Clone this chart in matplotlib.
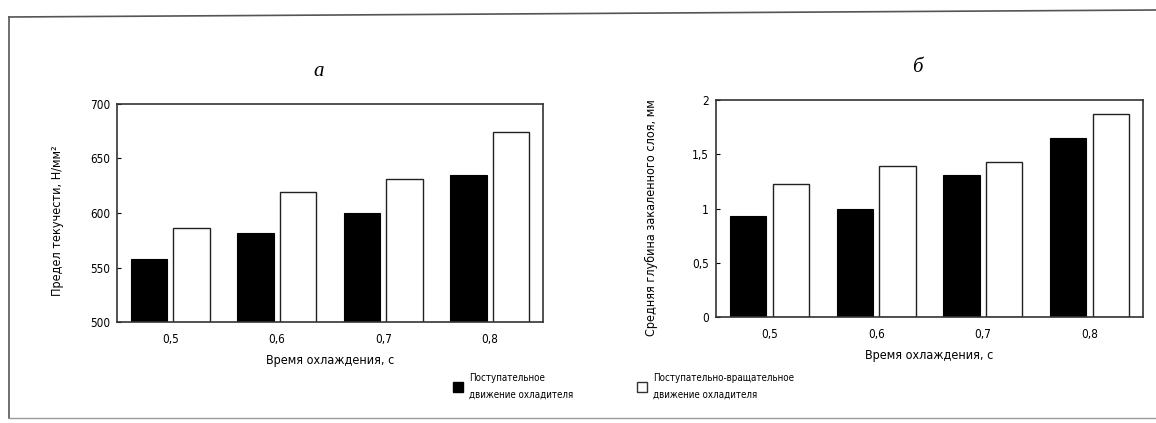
import matplotlib
matplotlib.use('Agg')
from matplotlib import pyplot as plt
from matplotlib.patches import Patch
from matplotlib.lines import Line2D
import numpy as np

# datos
tiempos = ['0,5', '0,6', '0,7', '0,8']
fluencia_post = [558, 582, 600, 635]
fluencia_rot = [586, 619, 631, 674]
capa_post = [0.93, 1.00, 1.31, 1.65]
capa_rot = [1.23, 1.39, 1.43, 1.87]
ticks_a = [500, 550, 600, 650, 700]
ticks_b = [0, 0.5, 1, 1.5, 2]
labels_b = ['0', '0,5', '1', '1,5', '2']
leyenda = ['Поступательное\nдвижение охладителя',
           'Поступательно-вращательное\nдвижение охладителя']

plt.rcParams['font.family'] = ['DejaVu Sans']
plt.rcParams['font.stretch'] = 'condensed'

W, H = 1156, 423
fig = plt.figure(figsize=(W / 100, H / 100), dpi=100)


def caja(x0, y0, x1, y1):
    return [x0 / W, 1 - y1 / H, (x1 - x0) / W, (y1 - y0) / H]


ax1 = fig.add_axes(caja(117, 104, 543, 322))
ax2 = fig.add_axes(caja(716, 100, 1143, 317))

x = np.arange(len(tiempos))
ancho = 0.34

for ax, neg, bla in [(ax1, fluencia_post, fluencia_rot), (ax2, capa_post, capa_rot)]:
    ax.bar(x - 0.2, neg, ancho, color='black', edgecolor='black', linewidth=0.8)
    ax.bar(x + 0.2, bla, ancho, color='white', edgecolor='#222222', linewidth=1.0)
    ax.set_xlim(-0.5, 3.5)
    ax.set_xticks(x)
    ax.set_xticklabels(tiempos, fontsize=8.5)
    ax.tick_params(axis='x', length=0, pad=8)
    ax.tick_params(axis='y', direction='in', length=3, labelsize=8.5, pad=5)
    for s in ax.spines.values():
        s.set_linewidth(1.2)
        s.set_color('#333333')
    ax.set_xlabel('Время охлаждения, с', fontsize=9, labelpad=6)

ax1.set_ylim(500, 700)
ax1.set_yticks(ticks_a)
ax1.set_ylabel('Предел текучести, Н/мм²', fontsize=9)
ax1.yaxis.set_label_coords(-0.125, 0.465)

ax2.set_ylim(0, 2)
ax2.set_yticks(ticks_b)
ax2.set_yticklabels(labels_b)
ax2.set_ylabel('Средняя глубина закаленного слоя, мм', fontsize=9)
ax2.yaxis.set_label_coords(-0.137, 0.46)

fig.text(319 / W, 1 - 72 / H, 'а', fontsize=15, style='italic',
         family='Liberation Serif', ha='center', va='center')
fig.text(917 / W, 1 - 67 / H, 'б', fontsize=15, style='italic',
         family='Liberation Serif', ha='center', va='center')

handles = [Patch(facecolor='black', edgecolor='black'),
           Patch(facecolor='white', edgecolor='#333333')]
leg = fig.legend(handles, leyenda, ncol=2, loc='upper left',
                 bbox_to_anchor=(444 / W, 1 - 364 / H), frameon=False,
                 fontsize=7, handlelength=1.1, handleheight=1.1,
                 columnspacing=6.5, handletextpad=0.6)
for t in leg.get_texts():
    t.set_linespacing(1.9)

# marco del escaneo
fig.add_artist(Line2D([9 / W, 9 / W], [1 - 17 / H, 1 - 418 / H], color='#555555', lw=1.2))
fig.add_artist(Line2D([9 / W, 1], [1 - 17 / H, 1 - 10 / H], color='#555555', lw=1.2))
fig.add_artist(Line2D([9 / W, 1], [1 - 418 / H, 1 - 418 / H], color='#999999', lw=1.0))

fig.savefig('out.png', dpi=100)
